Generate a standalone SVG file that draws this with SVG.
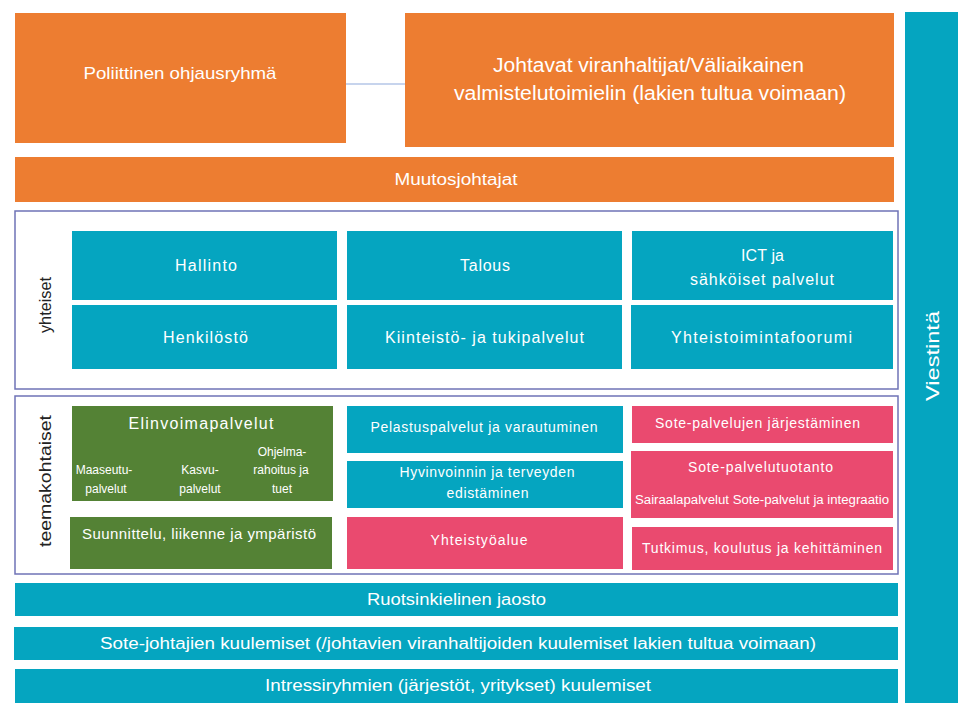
<svg xmlns="http://www.w3.org/2000/svg" width="972" height="718" viewBox="0 0 972 718">
<style>
.or{fill:#ED7D31}
.tl{fill:#05A5C0}
.gr{fill:#548235}
.pk{fill:#EA4A6F}
.frame{fill:#FFFFFF;stroke:#6F73B6;stroke-width:1.5}
text{font-family:"Liberation Sans","DejaVu Sans",sans-serif;fill:#FFFFFF;text-anchor:middle}
.t15{font-size:15px}
.t16{font-size:16px}
.t14{font-size:14px}
.t12{font-size:12px}
.side{fill:#222222;font-size:17px}
</style>
<rect width="972" height="718" fill="#FFFFFF"/>
<g id="connectors">
<line x1="346" y1="84" x2="405" y2="84" stroke="#8FAADC" stroke-width="1.2"/>
</g>
<g id="poliittinen">
<rect class="or" x="15" y="13" width="331" height="130"/>
<text x="180" y="79" font-size="17" textLength="193" lengthAdjust="spacingAndGlyphs">Poliittinen ohjausryhmä</text>
</g>
<g id="johtavat">
<rect class="or" x="405" y="13" width="489" height="134"/>
<text x="648.5" y="72" font-size="20" textLength="311" lengthAdjust="spacingAndGlyphs">Johtavat viranhaltijat/Väliaikainen</text>
<text x="650" y="100" font-size="20" textLength="392" lengthAdjust="spacingAndGlyphs">valmistelutoimielin (lakien tultua voimaan)</text>
</g>
<g id="viestinta">
<rect class="tl" x="905" y="12" width="53" height="691"/>
<text transform="translate(939,356) rotate(-90)" font-size="19" textLength="90" lengthAdjust="spacingAndGlyphs">Viestintä</text>
</g>
<g id="muutosjohtajat">
<rect class="or" x="15" y="157" width="879" height="45"/>
<text x="456" y="185" font-size="16" textLength="123" lengthAdjust="spacingAndGlyphs">Muutosjohtajat</text>
</g>
<g id="yhteiset">
<rect class="frame" x="15" y="211" width="883" height="178"/>
<text class="side" transform="translate(51,305) rotate(-90)" textLength="56" lengthAdjust="spacingAndGlyphs">yhteiset</text>
</g>
<g id="hallinto">
<rect class="tl" x="72" y="231" width="265" height="69"/>
<text class="t16" x="206" y="271" textLength="62">Hallinto</text>
</g>
<g id="talous">
<rect class="tl" x="347" y="231" width="275" height="69"/>
<text class="t16" x="485" y="271" textLength="50">Talous</text>
</g>
<g id="ict">
<rect class="tl" x="632" y="231" width="261" height="69"/>
<text class="t16" x="762.5" y="261" textLength="43">ICT ja</text>
<text class="t16" x="762" y="285" textLength="144">sähköiset palvelut</text>
</g>
<g id="henkilosto">
<rect class="tl" x="72" y="305" width="265" height="64"/>
<text class="t16" x="205.5" y="343" textLength="85">Henkilöstö</text>
</g>
<g id="kiinteisto">
<rect class="tl" x="347" y="305" width="275" height="64"/>
<text class="t16" x="484.5" y="343" textLength="199">Kiinteistö- ja tukipalvelut</text>
</g>
<g id="yhteistoiminta">
<rect class="tl" x="631" y="305" width="262" height="64"/>
<text class="t16" x="761.5" y="343" textLength="181">Yhteistoimintafoorumi</text>
</g>
<g id="teemakohtaiset">
<rect class="frame" x="15" y="396" width="883" height="178"/>
<text class="side" transform="translate(51,481) rotate(-90)" textLength="132" lengthAdjust="spacingAndGlyphs">teemakohtaiset</text>
</g>
<g id="elinvoima">
<rect class="gr" x="72" y="406" width="261" height="95"/>
<text class="t16" x="201" y="429" textLength="145">Elinvoimapalvelut</text>
<text class="t12" x="104" y="474">Maaseutu-</text>
<text class="t12" x="106" y="493">palvelut</text>
<text class="t12" x="200" y="474">Kasvu-</text>
<text class="t12" x="200" y="493">palvelut</text>
<text class="t12" x="282" y="456">Ohjelma-</text>
<text class="t12" x="281" y="474">rahoitus ja</text>
<text class="t12" x="282" y="493">tuet</text>
</g>
<g id="suunnittelu">
<rect class="gr" x="70" y="517" width="262" height="52"/>
<text class="t15" x="199" y="539" textLength="234">Suunnittelu, liikenne ja ympäristö</text>
</g>
<g id="pelastus">
<rect class="tl" x="347" y="406" width="276" height="47"/>
<text class="t14" x="484" y="432" textLength="227">Pelastuspalvelut ja varautuminen</text>
</g>
<g id="hyvinvointi">
<rect class="tl" x="347" y="461" width="276" height="47"/>
<text class="t14" x="487" y="477" textLength="175">Hyvinvoinnin ja terveyden</text>
<text class="t14" x="487.5" y="498" textLength="82">edistäminen</text>
</g>
<g id="yhteistyoalue">
<rect class="pk" x="347" y="517" width="276" height="52"/>
<text class="t14" x="479" y="545" textLength="97">Yhteistyöalue</text>
</g>
<g id="sote-jarjestaminen">
<rect class="pk" x="632" y="406" width="261" height="37"/>
<text class="t14" x="757.5" y="428" textLength="205">Sote-palvelujen järjestäminen</text>
</g>
<g id="sote-tuotanto">
<rect class="pk" x="631" y="451" width="262" height="67"/>
<text class="t14" x="760.5" y="472" textLength="145">Sote-palvelutuotanto</text>
<text x="762" y="504" font-size="12" textLength="254" lengthAdjust="spacingAndGlyphs">Sairaalapalvelut  Sote-palvelut ja integraatio</text>
</g>
<g id="tutkimus">
<rect class="pk" x="632" y="527" width="261" height="43"/>
<text class="t14" x="762" y="553" textLength="240">Tutkimus, koulutus ja kehittäminen</text>
</g>
<g id="ruotsinkielinen">
<rect class="tl" x="15" y="583" width="883" height="33"/>
<text x="456.5" y="605" font-size="16" textLength="179" lengthAdjust="spacingAndGlyphs">Ruotsinkielinen jaosto</text>
</g>
<g id="sote-johtajat">
<rect class="tl" x="14" y="627" width="884" height="33"/>
<text x="458" y="649" font-size="16" textLength="716" lengthAdjust="spacingAndGlyphs">Sote-johtajien kuulemiset (/johtavien viranhaltijoiden kuulemiset lakien tultua voimaan)</text>
</g>
<g id="intressiryhmat">
<rect class="tl" x="15" y="669" width="883" height="34"/>
<text x="458" y="691" font-size="16" textLength="386" lengthAdjust="spacingAndGlyphs">Intressiryhmien (järjestöt, yritykset) kuulemiset</text>
</g>
</svg>
